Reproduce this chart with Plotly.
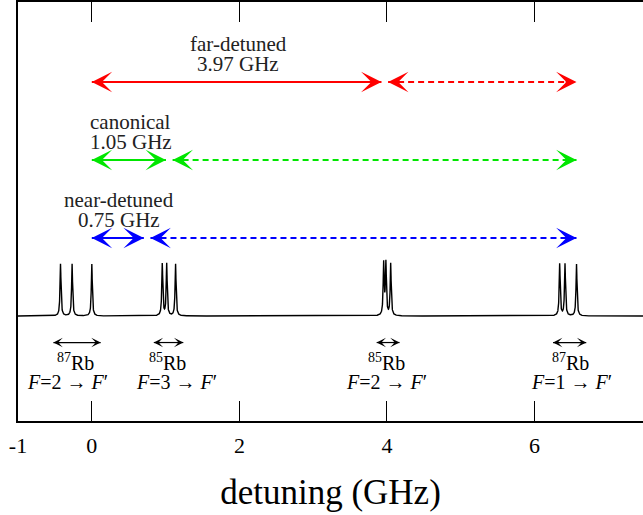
import numpy as np
import plotly.graph_objects as go

# ---------------- data ----------------
# hyperfine line centres (GHz, relative to 87Rb F=2 -> F'=3)
rb87_f2_lines = [-0.424, -0.267, 0.0]
rb85_f3_lines = [0.955, 1.015, 1.135]
rb85_f2_lines = [3.955, 3.985, 4.050]
rb87_f1_lines = [6.340, 6.412, 6.568]
line_height = 1.0
line_hwhm = 0.008  # GHz

# laser detunings
laser_names = ["far-detuned", "canonical", "near-detuned"]
laser_detunings = [3.97, 1.05, 0.75]
laser_labels = ["3.97 GHz", "1.05 GHz", "0.75 GHz"]
laser_levels = [4.5, 3.0, 1.5]
laser_colors = ["#ff0000", "#00e600", "#0000ff"]
far_edge = 6.568  # 87Rb F=1 -> F'=2

# group span arrows and labels
group_arrow_left = [-0.52, 0.84, 3.86, 6.25]
group_arrow_right = [0.12, 1.24, 4.17, 6.70]
group_iso_x = [-0.22, 1.03, 3.99, 6.48]
group_iso_text = ["<sup>87</sup>Rb", "<sup>85</sup>Rb", "<sup>85</sup>Rb", "<sup>87</sup>Rb"]
group_f_x = [-0.33, 1.15, 4.00, 6.50]
group_f_text = ["<i>F</i>=2 → <i>F</i>′", "<i>F</i>=3 → <i>F</i>′",
                "<i>F</i>=2 → <i>F</i>′", "<i>F</i>=1 → <i>F</i>′"]
group_arrow_level = -0.51
group_iso_level = -0.88
group_f_level = -1.26

tick_vals = [-1, 0, 2, 4, 6]
tick_text = ["-1", "0", "2", "4", "6"]

x_range = [-1.0, 7.469]
y_range = [-2.019, 6.038]

# ---------------- figure ----------------
FONT = "Liberation Serif"
fig = go.Figure()

all_lines = rb87_f2_lines + rb85_f3_lines + rb85_f2_lines + rb87_f1_lines
xs = np.linspace(x_range[0], x_range[1], 9000)
ys = np.zeros_like(xs)
for c in all_lines:
    ys += line_height * line_hwhm**2 / ((xs - c) ** 2 + line_hwhm**2)
fig.add_trace(go.Scatter(x=xs, y=ys, mode="lines",
                         line=dict(color="black", width=1.4),
                         hoverinfo="skip", showlegend=False))

GAP = 0.045
annotations = []


def head(x, y, color, direction, width, size, shift=0):
    # direction: -1 -> points left, +1 -> points right
    annotations.append(dict(x=x, y=y, xref="x", yref="y", text="",
                            showarrow=True, arrowhead=3, arrowside="end",
                            arrowcolor=color, arrowwidth=width, arrowsize=size,
                            ax=-direction * 8, ay=0, standoff=0, xshift=shift))


for name, d, lab, lev, col in zip(laser_names, laser_detunings, laser_labels,
                                  laser_levels, laser_colors):
    # solid part 0 -> detuning
    fig.add_trace(go.Scatter(x=[0.0, d - GAP], y=[lev, lev], mode="lines",
                             line=dict(color=col, width=2),
                             hoverinfo="skip", showlegend=False))
    # dashed part detuning -> far edge
    fig.add_trace(go.Scatter(x=[d + GAP, far_edge], y=[lev, lev], mode="lines",
                             line=dict(color=col, width=2, dash="6px,4px"),
                             hoverinfo="skip", showlegend=False))
    head(0.0, lev, col, -1, 1.7, 2.0)
    head(d - GAP, lev, col, +1, 1.7, 2.0)
    head(d + GAP, lev, col, -1, 1.7, 2.0)
    head(far_edge, lev, col, +1, 1.7, 2.0)
    annotations.append(dict(x=d / 2, y=lev, xref="x", yref="y", text=name,
                            showarrow=False, yshift=38, yanchor="middle",
                            font=dict(family=FONT, size=21, color="#222222")))
    annotations.append(dict(x=d / 2, y=lev, xref="x", yref="y", text=lab,
                            showarrow=False, yshift=18, yanchor="middle",
                            font=dict(family=FONT, size=21, color="#222222")))

for xl, xr, ix, it, fx, ft in zip(group_arrow_left, group_arrow_right,
                                  group_iso_x, group_iso_text,
                                  group_f_x, group_f_text):
    fig.add_trace(go.Scatter(x=[xl, xr], y=[group_arrow_level] * 2, mode="lines",
                             line=dict(color="black", width=1.2),
                             hoverinfo="skip", showlegend=False))
    head(xl, group_arrow_level, "black", -1, 1.2, 1.3)
    head(xr, group_arrow_level, "black", +1, 1.2, 1.3)
    annotations.append(dict(x=ix, y=group_iso_level, xref="x", yref="y", text=it,
                            showarrow=False, yanchor="middle",
                            font=dict(family=FONT, size=20, color="black")))
    annotations.append(dict(x=fx, y=group_f_level, xref="x", yref="y", text=ft,
                            showarrow=False, yanchor="middle",
                            font=dict(family=FONT, size=20, color="black")))

fig.update_layout(
    width=643, height=515,
    margin=dict(l=18, r=0, t=2, b=94),
    paper_bgcolor="white", plot_bgcolor="white",
    showlegend=False,
    annotations=annotations,
    xaxis=dict(range=x_range, tickvals=tick_vals, ticktext=tick_text,
               ticks="inside", ticklen=20, tickwidth=1.3, tickcolor="black",
               showline=True, linecolor="black", linewidth=1.5,
               mirror="ticks", showgrid=False, zeroline=False,
               tickfont=dict(family=FONT, size=22, color="black"),
               ticklabelstandoff=4,
               title=dict(text="detuning (GHz)", standoff=22,
                          font=dict(family=FONT, size=35, color="black"))),
    yaxis=dict(range=y_range, showticklabels=False, ticks="",
               showline=True, linecolor="black", linewidth=1.5,
               mirror=False, showgrid=False, zeroline=False),
)

fig.write_html("out.html",
               config={"displayModeBar": False},
               post_script="document.body.style.margin='0px';"
                           "document.body.style.padding='0px';")
